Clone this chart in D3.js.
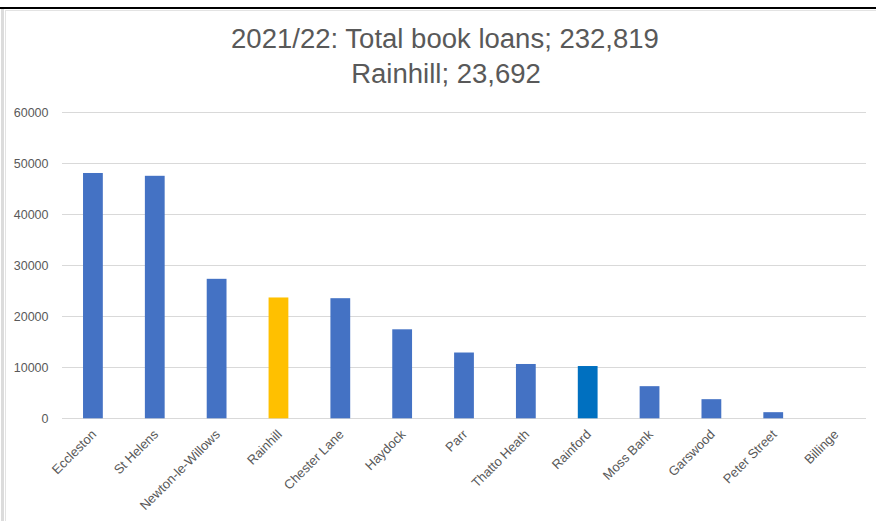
<!DOCTYPE html>
<html>
<head>
<meta charset="utf-8">
<script src="https://cdn.jsdelivr.net/npm/d3@7"></script>
<style>
  html, body { margin: 0; padding: 0; background: #fff; }
  svg { display: block; }
</style>
</head>
<body>
<svg id="chart" width="876" height="521"></svg>
<script>
// ---- Data ----
const categories = ["Eccleston", "St Helens", "Newton-le-Willows", "Rainhill", "Chester Lane",
  "Haydock", "Parr", "Thatto Heath", "Rainford", "Moss Bank", "Garswood", "Peter Street", "Billinge"];
const loans = [48100, 47550, 27350, 23692, 23550, 17450, 12900, 10650, 10250, 6300, 3750, 1200, 0];
const yTicks = [0, 10000, 20000, 30000, 40000, 50000, 60000];
const titleLines = ["2021/22: Total book loans; 232,819", "Rainhill; 23,692"];

// ---- Styles ----
const baseColor = "#4472C4";
const highlightColors = { "Rainhill": "#FFC000", "Rainford": "#0070C0" };
const textColor = "#595959";
const gridColor = "#d9d9d9";
const fontFamily = "'Liberation Sans', Arial, sans-serif";

const svg = d3.select("#chart");
const W = 876, H = 521;

// frame
svg.append("rect").attr("x", 0).attr("y", 0).attr("width", W).attr("height", H).attr("fill", "#fff");
svg.append("rect").attr("x", 0).attr("y", 7).attr("width", W).attr("height", 2).attr("fill", "#000");
svg.append("rect").attr("x", 1).attr("y", 9).attr("width", 3).attr("height", H - 9).attr("fill", "#dcdcdc");
svg.append("line").attr("x1", 5.5).attr("x2", 5.5).attr("y1", 10).attr("y2", H)
  .attr("stroke", "#e3e3e3").attr("stroke-width", 1);
svg.append("line").attr("x1", 5).attr("x2", W).attr("y1", 10.5).attr("y2", 10.5)
  .attr("stroke", "#e3e3e3").attr("stroke-width", 1);

// scales
const x = d3.scaleBand().domain(categories).range([62, 866]).paddingInner(0.68).paddingOuter(0.34);
const y = d3.scaleLinear().domain([0, 60000]).range([418.3, 112.3]);

// gridlines
svg.append("g").selectAll("line").data(yTicks).join("line")
  .attr("x1", 62).attr("x2", 866)
  .attr("y1", d => Math.round(y(d)) + 0.5).attr("y2", d => Math.round(y(d)) + 0.5)
  .attr("stroke", gridColor).attr("stroke-width", 1);

// y axis labels
const yAxis = d3.axisLeft(y).tickValues(yTicks).tickFormat(d3.format("d")).tickSize(0).tickPadding(0);
const gy = svg.append("g").attr("transform", "translate(48.5,0)").call(yAxis);
gy.select(".domain").remove();
gy.selectAll("text").attr("fill", textColor).attr("font-family", fontFamily).attr("font-size", "12.5px");

// bars
const data = categories.map((c, i) => ({ c, v: loans[i] }));
svg.append("g").selectAll("rect").data(data).join("rect")
  .attr("x", d => x(d.c))
  .attr("width", x.bandwidth())
  .attr("y", d => y(d.v))
  .attr("height", d => y(0) - y(d.v))
  .attr("fill", d => highlightColors[d.c] || baseColor);

// x axis labels
const xAxis = d3.axisBottom(x).tickSize(0).tickPadding(0);
const gx = svg.append("g").attr("transform", "translate(0,418)").call(xAxis);
gx.select(".domain").remove();
gx.selectAll(".tick text")
  .attr("fill", textColor).attr("font-family", fontFamily).attr("font-size", "13px")
  .attr("text-anchor", "end")
  .attr("y", 0).attr("dy", "0.35em")
  .attr("transform", "translate(1,14) rotate(-45)");

// title
const title = svg.append("g");
const t1 = title.append("text").attr("x", 445).attr("y", 48).attr("text-anchor", "middle")
  .attr("fill", textColor).attr("font-family", fontFamily).attr("font-size", "24px").text(titleLines[0]);
const len = t1.node().getComputedTextLength();
const fs = 24 * 428 / len;
t1.attr("font-size", fs + "px");
title.append("text").attr("x", 446).attr("y", 83).attr("text-anchor", "middle")
  .attr("fill", textColor).attr("font-family", fontFamily).attr("font-size", fs + "px").text(titleLines[1]);
</script>
</body>
</html>
